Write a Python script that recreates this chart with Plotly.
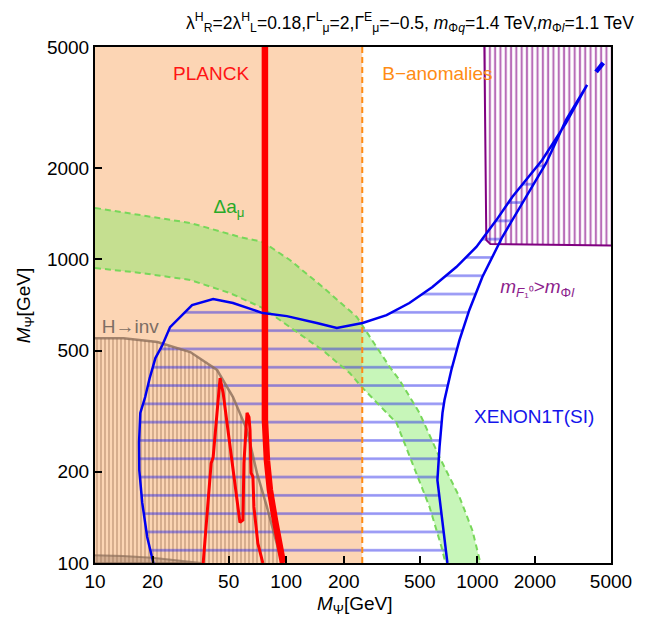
import plotly.graph_objects as go

# ---------------- data (GeV) ----------------
x_ticks = [10, 20, 50, 100, 200, 500, 1000, 2000, 5000]
y_ticks = [100, 200, 500, 1000, 2000, 5000]

b_anom_x = [10, 250, 250, 10]
b_anom_y = [100, 100, 5000, 5000]
b_line_x = [250, 250]
b_line_y = [100, 5000]

g_outer_x = [10, 17.3, 31.5, 57.3, 75.5, 104.5, 155, 234, 348, 392, 498, 634, 806, 942, 1037]
g_outer_y = [1476, 1400, 1317, 1184, 1140, 995, 811, 646, 442, 400, 312, 223, 165, 128, 100]
g_inner_x = [10, 17.3, 31.5, 50.8, 75.5, 104.5, 155, 215, 248, 378, 458, 562, 649, 681]
g_inner_y = [936, 902, 855, 774, 691, 598, 502, 422, 380, 289, 213, 153, 113, 100]

hinv_x = [10, 14.1, 21.2, 31.5, 43.5, 52.7, 62.4, 70.3, 79.3, 89.4, 95]
hinv_y = [550, 550, 534, 495, 432, 352, 274, 198, 153, 116, 100]
strip_x = [10, 14, 20, 30, 36]
strip_y = [106, 105.5, 104, 101.5, 100]

planck_thick_x = [77.4, 77.4, 79.3, 82.2, 87.3, 92.6, 96.2]
planck_thick_y = [5000, 296, 218, 174, 138.6, 114.6, 100]
planck_thin_x = [36.8, 40, 40.5, 41.5, 43.5, 45.1, 46.8, 49.1, 52.1, 55.3, 57.3, 59.4, 60.1,
                 61.6, 62.4, 63.9, 64.7, 65.5, 67, 67.8, 70.3, 71.1, 75.5]
planck_thin_y = [100, 192, 213, 223, 312, 406, 363, 289, 213, 158, 136, 138.6, 213,
                 274, 312, 302, 274, 198, 192, 153, 128, 116, 100]

xe_left_x = [20.2, 18.75, 17.66, 17.05, 17.0, 17.26, 18.3, 19.3, 20.7, 22.5, 24.7, 32.2, 41.5,
             52.7, 75.5, 100.8, 144.5, 184, 251, 335, 441, 582, 776, 988, 1257, 1522, 2183,
             2911, 3750]
xe_left_y = [100, 121.8, 158, 202, 250, 312, 352, 405, 473, 521, 598, 707, 740,
             718, 665, 650, 617, 594, 617, 655, 718, 811, 943, 1098, 1346, 1603, 2124,
             2812, 3750]
xe_right_x = [3750, 2911, 2291, 1801, 1350, 1272, 1062, 908, 806, 731, 673, 657, 634, 618, 649, 689, 697]
xe_right_y = [3750, 2876, 2075, 1603, 1184, 1098, 874, 681, 542, 432, 344, 312, 241, 187.5, 146, 104.6, 100]
xe_tail_x = [4178, 4556]
xe_tail_y = [4139, 4431]

pur_x = [1088, 1114, 1170, 5000]
pur_y = [5000, 1157, 1122, 1110]

# ---------------- figure ----------------
fig = go.Figure()
FONT = "Liberation Sans, Arial, sans-serif"

# B-anomalies shaded region
fig.add_trace(go.Scatter(x=b_anom_x, y=b_anom_y, fill="toself", fillcolor="#FCD5B4",
                         mode="lines", line=dict(width=0), hoverinfo="skip"))

# Delta a_mu band
fig.add_trace(go.Scatter(x=g_outer_x + g_inner_x[::-1], y=g_outer_y + g_inner_y[::-1],
                         fill="toself", fillcolor="rgba(130,235,100,0.45)",
                         mode="lines", line=dict(width=0), hoverinfo="skip"))

# H -> inv hatched region
fig.add_trace(go.Scatter(x=hinv_x + [10], y=hinv_y + [100], fill="toself",
                         fillcolor="rgba(0,0,0,0)",
                         fillpattern=dict(shape="|", size=4, solidity=0.45,
                                          fgcolor="rgb(160,115,85)", fgopacity=0.45,
                                          bgcolor="rgba(0,0,0,0)"),
                         mode="lines", line=dict(width=0), hoverinfo="skip"))
fig.add_trace(go.Scatter(x=strip_x + [10], y=strip_y + [100], fill="toself",
                         fillcolor="rgba(140,110,90,0.35)",
                         mode="lines", line=dict(width=2, color="rgba(140,110,90,0.7)"),
                         hoverinfo="skip"))

# purple region
fig.add_trace(go.Scatter(x=pur_x + [5000], y=pur_y + [5000], fill="toself",
                         fillcolor="rgba(0,0,0,0)",
                         fillpattern=dict(shape="|", size=5.3, solidity=0.4,
                                          fgcolor="rgb(160,60,160)", fgopacity=0.75,
                                          bgcolor="rgba(0,0,0,0)"),
                         mode="lines", line=dict(width=0), hoverinfo="skip"))

# XENON1T hatched region
fig.add_trace(go.Scatter(x=xe_left_x + xe_right_x, y=xe_left_y + xe_right_y, fill="toself",
                         fillcolor="rgba(0,0,0,0)",
                         fillpattern=dict(shape="-", size=18.3, solidity=0.14,
                                          fgcolor="rgb(40,40,235)", fgopacity=0.5,
                                          bgcolor="rgba(0,0,0,0)"),
                         mode="lines", line=dict(width=0), hoverinfo="skip"))

# green dashed boundaries
for gx, gy in ((g_outer_x, g_outer_y), (g_inner_x, g_inner_y)):
    fig.add_trace(go.Scatter(x=gx, y=gy, mode="lines",
                             line=dict(color="rgb(120,215,90)", width=2, dash="6px,4px"),
                             hoverinfo="skip"))

# H -> inv boundary
fig.add_trace(go.Scatter(x=hinv_x, y=hinv_y, mode="lines",
                         line=dict(color="rgba(140,110,90,0.8)", width=2.5), hoverinfo="skip"))

# PLANCK
fig.add_trace(go.Scatter(x=planck_thin_x, y=planck_thin_y, mode="lines",
                         line=dict(color="rgb(255,0,0)", width=3), hoverinfo="skip"))
fig.add_trace(go.Scatter(x=planck_thick_x, y=planck_thick_y, mode="lines",
                         line=dict(color="rgb(255,0,0)", width=6.5), hoverinfo="skip"))

# B-anomalies dashed line
fig.add_trace(go.Scatter(x=b_line_x, y=b_line_y, mode="lines",
                         line=dict(color="rgb(255,140,20)", width=2, dash="6px,4px"),
                         hoverinfo="skip"))

# purple outline
fig.add_trace(go.Scatter(x=pur_x, y=pur_y, mode="lines",
                         line=dict(color="rgb(128,0,128)", width=2), hoverinfo="skip"))

# XENON1T outline
fig.add_trace(go.Scatter(x=xe_left_x + xe_right_x, y=xe_left_y + xe_right_y, mode="lines",
                         line=dict(color="rgb(0,0,240)", width=2.5), hoverinfo="skip"))
fig.add_trace(go.Scatter(x=xe_tail_x, y=xe_tail_y, mode="lines",
                         line=dict(color="rgb(0,0,240)", width=4.5), hoverinfo="skip"))

# labels
labels = [
    (40.5, 4045, "PLANCK", "rgb(255,20,20)"),
    (618, 4045, "B\u2212anomalies", "rgb(255,140,20)"),
    (50.2, 1476, "\u0394a<sub>\u03bc</sub>", "rgb(40,170,40)"),
    (15.3, 594, "H\u2192inv", "rgb(125,110,100)"),
    (2055, 804, "<i>m</i><sub><i>F</i>\u2081\u2070</sub>&gt;<i>m</i><sub>\u03a6<i>l</i></sub>", "rgb(140,30,140)"),
    (1982, 300, "XENON1T(SI)", "rgb(20,20,235)"),
]
for lx, ly, txt, col in labels:
    fig.add_trace(go.Scatter(x=[lx], y=[ly], mode="text", text=[txt],
                             textposition="middle center", cliponaxis=False,
                             textfont=dict(family=FONT, size=19, color=col), hoverinfo="skip"))

axis_common = dict(type="log", showgrid=False, zeroline=False, showline=True,
                   linecolor="black", linewidth=2, mirror=True, ticks="inside",
                   ticklen=7, tickwidth=2, tickcolor="black",
                   tickfont=dict(family=FONT, size=19, color="black"))
fig.update_xaxes(range=[1, 3.69897], tickvals=x_ticks, ticktext=[str(v) for v in x_ticks],
                 **axis_common)
fig.update_yaxes(range=[2, 3.69897], tickvals=y_ticks, ticktext=[str(v) for v in y_ticks],
                 **axis_common)

fig.update_layout(
    width=636, height=608, showlegend=False,
    plot_bgcolor="white", paper_bgcolor="white",
    margin=dict(l=87, r=31, t=39, b=53),
    font=dict(family=FONT, color="black"),
    title=dict(
        text="\u03bb<sup>H</sup><sub>R</sub>=2\u03bb<sup>H</sup><sub>L</sub>=0.18,"
             "\u0393<sup>L</sup><sub>\u03bc</sub>=2,\u0393<sup>E</sup><sub>\u03bc</sub>=\u22120.5, "
             "<i>m</i><sub>\u03a6<i>q</i></sub>=1.4 TeV,<i>m</i><sub>\u03a6<i>l</i></sub>=1.1 TeV",
        x=0.632, xanchor="center", y=0.976, yanchor="middle",
        font=dict(family=FONT, size=17.5, color="black")),
    annotations=[
        dict(text="<i>M</i><sub>\u03a8</sub>[GeV]", xref="paper", yref="paper",
             x=0.504, y=-0.081, xanchor="center", yanchor="middle", showarrow=False,
             font=dict(family=FONT, size=19, color="black")),
        dict(text="<i>M</i><sub>\u03a8</sub>[GeV]", xref="paper", yref="paper",
             x=-0.135, y=0.5, xanchor="center", yanchor="middle", showarrow=False,
             textangle=-90, font=dict(family=FONT, size=19, color="black")),
    ],
)

fig.write_html("out.html")
